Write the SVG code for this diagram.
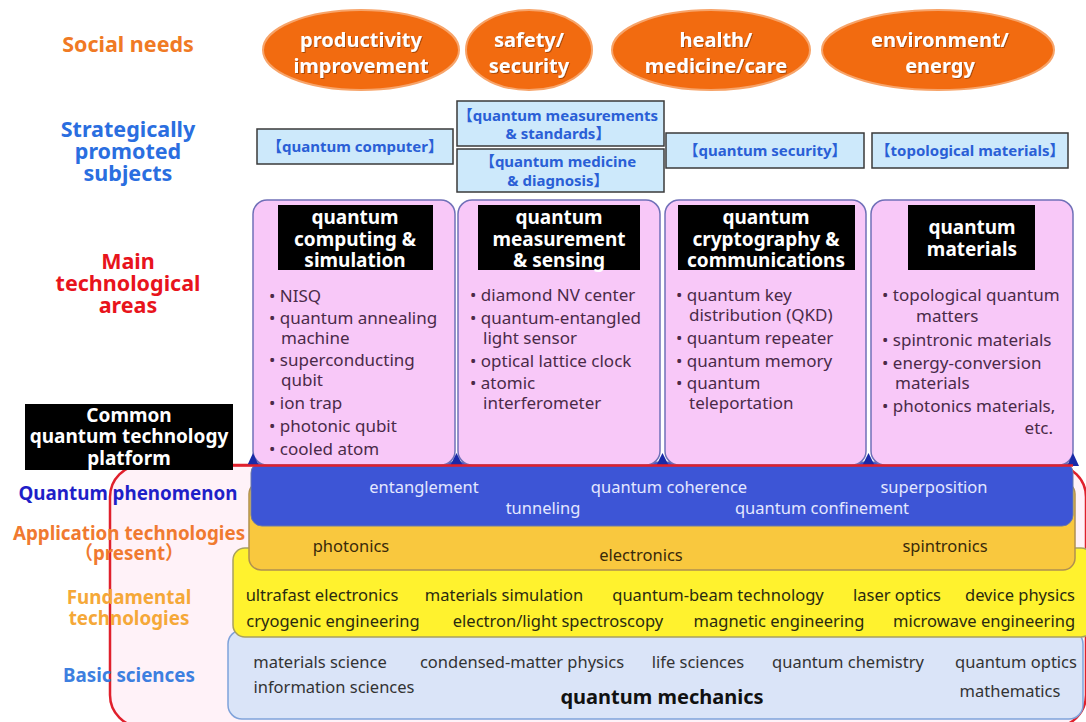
<svg xmlns="http://www.w3.org/2000/svg" width="1086" height="722" viewBox="0 0 1086 722">
<defs>
  <filter id="tshadow" x="-10%" y="-30%" width="120%" height="160%">
    <feDropShadow dx="1" dy="1" stdDeviation="0.6" flood-color="#7a3000" flood-opacity="0.6"/>
  </filter>
</defs>
<style>
text{font-family:"Noto Sans","Open Sans","Noto Sans CJK JP",sans-serif;}
.lbl{font-weight:bold;font-size:21.5px;text-anchor:middle;}
.lbl2{font-weight:bold;font-size:18.8px;text-anchor:middle;}
.need{fill:#f26b10;stroke:#f7a46a;stroke-width:2;}
.needt{fill:#fff;font-weight:bold;font-size:20px;text-anchor:middle;filter:url(#tshadow);}
.sbox{fill:#cde9fb;stroke:#3a3a3a;stroke-width:1.5;}
.st{fill:#2a5fd6;font-weight:bold;font-size:15px;text-anchor:middle;font-family:"Noto Sans","Noto Sans CJK JP",sans-serif;}
.col{fill:#f8c8f8;stroke:#7070b8;stroke-width:1.5;}
.hdr{fill:#000;}
.ht{fill:#fff;font-weight:bold;font-size:19px;text-anchor:middle;}
.bt{fill:#4a2a48;font-size:17px;}
.tri{fill:#1a2aa8;}
.pt{fill:#e4e8ff;font-size:16.5px;text-anchor:middle;}
.ot{fill:#3a2a0a;font-size:16.5px;text-anchor:middle;}
.yt{fill:#2a2a10;font-size:16.5px;text-anchor:middle;}
.bs{fill:#333;font-size:16.5px;text-anchor:middle;}
.pf{fill:#fff;font-weight:bold;font-size:19px;text-anchor:middle;}
</style>

<g id="platform-frame">
  <rect x="110" y="465" width="976" height="262" rx="32" fill="#fff2f8" stroke="#e0202c" stroke-width="2.5"/>
</g>

<g id="basic-sciences">
  <rect x="228" y="630" width="855" height="89" rx="14" fill="#dae4f8" stroke="#7fa2da" stroke-width="1.5"/>
  <text class="bs" x="320" y="668">materials science</text>
  <text class="bs" x="522" y="668">condensed-matter physics</text>
  <text class="bs" x="698" y="668">life sciences</text>
  <text class="bs" x="848" y="668">quantum chemistry</text>
  <text class="bs" x="1016" y="668">quantum optics</text>
  <text class="bs" x="334" y="693">information sciences</text>
  <text class="bs" x="1010" y="697">mathematics</text>
  <text x="662" y="704" style="font-weight:bold;font-size:20px;text-anchor:middle;fill:#111">quantum mechanics</text>
</g>

<g id="fundamental-technologies">
  <rect x="233" y="548" width="860" height="89" rx="12" fill="#fff22e" stroke="#a8a060" stroke-width="1.5"/>
  <text class="yt" x="322" y="601">ultrafast electronics</text>
  <text class="yt" x="504" y="601">materials simulation</text>
  <text class="yt" x="718" y="601">quantum-beam technology</text>
  <text class="yt" x="897" y="601">laser optics</text>
  <text class="yt" x="1020" y="601">device physics</text>
  <text class="yt" x="333" y="627">cryogenic engineering</text>
  <text class="yt" x="558" y="627">electron/light spectroscopy</text>
  <text class="yt" x="779" y="627">magnetic engineering</text>
  <text class="yt" x="984" y="627">microwave engineering</text>
</g>

<g id="application-technologies">
  <rect x="249" y="482" width="826" height="88" rx="12" fill="#f9c83e" stroke="#b09050" stroke-width="1.5"/>
  <text class="ot" x="351" y="552">photonics</text>
  <text class="ot" x="641" y="561">electronics</text>
  <text class="ot" x="945" y="552">spintronics</text>
</g>

<g id="quantum-phenomenon">
  <rect x="251" y="462" width="822" height="64" rx="11" fill="#3d55d6" stroke="#6b78a8" stroke-width="1"/>
  <text class="pt" x="424" y="493">entanglement</text>
  <text class="pt" x="669" y="493">quantum coherence</text>
  <text class="pt" x="934" y="493">superposition</text>
  <text class="pt" x="543" y="514">tunneling</text>
  <text class="pt" x="822" y="514">quantum confinement</text>
</g>

<g id="area-computing">
  <rect class="col" x="253" y="200" width="202" height="265" rx="14"/>
  <rect class="hdr" x="278" y="205" width="155" height="65"/>
  <text class="ht" x="355" y="224">quantum</text>
  <text class="ht" x="355" y="246">computing &amp;</text>
  <text class="ht" x="355" y="267">simulation</text>
  <text class="bt" x="269" y="302">• NISQ</text>
  <text class="bt" x="269" y="324">• quantum annealing</text>
  <text class="bt" x="281" y="344">machine</text>
  <text class="bt" x="269" y="366">• superconducting</text>
  <text class="bt" x="281" y="386">qubit</text>
  <text class="bt" x="269" y="409">• ion trap</text>
  <text class="bt" x="269" y="432">• photonic qubit</text>
  <text class="bt" x="269" y="455">• cooled atom</text>
</g>

<g id="area-measurement">
  <rect class="col" x="458" y="200" width="202" height="265" rx="14"/>
  <rect class="hdr" x="478" y="205" width="162" height="65"/>
  <text class="ht" x="559" y="224">quantum</text>
  <text class="ht" x="559" y="246">measurement</text>
  <text class="ht" x="559" y="267">&amp; sensing</text>
  <text class="bt" x="470" y="301">• diamond NV center</text>
  <text class="bt" x="470" y="324">• quantum-entangled</text>
  <text class="bt" x="483" y="344">light sensor</text>
  <text class="bt" x="470" y="367">• optical lattice clock</text>
  <text class="bt" x="470" y="389">• atomic</text>
  <text class="bt" x="483" y="409">interferometer</text>
</g>

<g id="area-cryptography">
  <rect class="col" x="665" y="200" width="201" height="265" rx="14"/>
  <rect class="hdr" x="678" y="205" width="177" height="65"/>
  <text class="ht" x="766" y="224">quantum</text>
  <text class="ht" x="766" y="246">cryptography &amp;</text>
  <text class="ht" x="766" y="267">communications</text>
  <text class="bt" x="676" y="301">• quantum key</text>
  <text class="bt" x="689" y="321">distribution (QKD)</text>
  <text class="bt" x="676" y="344">• quantum repeater</text>
  <text class="bt" x="676" y="367">• quantum memory</text>
  <text class="bt" x="676" y="389">• quantum</text>
  <text class="bt" x="689" y="409">teleportation</text>
</g>

<g id="area-materials">
  <rect class="col" x="871" y="200" width="202" height="265" rx="14"/>
  <rect class="hdr" x="908" y="205" width="127" height="65"/>
  <text class="ht" x="972" y="234">quantum</text>
  <text class="ht" x="972" y="256">materials</text>
  <text class="bt" x="882" y="301">• topological quantum</text>
  <text class="bt" x="916" y="322">matters</text>
  <text class="bt" x="882" y="346">• spintronic materials</text>
  <text class="bt" x="882" y="369">• energy-conversion</text>
  <text class="bt" x="895" y="389">materials</text>
  <text class="bt" x="882" y="412">• photonics materials,</text>
  <text class="bt" x="1053" y="434" style="text-anchor:end">etc.</text>
</g>

<g id="column-feet">
  <path class="tri" d="M247,466 L259,466 L253,453 Z"/>
  <path class="tri" d="M450,466 L463,466 L456.5,453 Z"/>
  <path class="tri" d="M656,466 L669,466 L662.5,453 Z"/>
  <path class="tri" d="M862,466 L875,466 L868.5,453 Z"/>
  <path class="tri" d="M1067,466 L1079,466 L1073,453 Z"/>
</g>

<g id="connectors">
  <line x1="233" y1="465.5" x2="1073" y2="465.5" stroke="#e0202c" stroke-width="2.5"/>
</g>

<g id="need-productivity">
  <ellipse class="need" cx="361" cy="50" rx="98" ry="40"/>
  <text class="needt" x="361" y="47">productivity</text>
  <text class="needt" x="361" y="73">improvement</text>
</g>
<g id="need-safety">
  <ellipse class="need" cx="529" cy="50" rx="63" ry="40"/>
  <text class="needt" x="529" y="47">safety/</text>
  <text class="needt" x="529" y="73">security</text>
</g>
<g id="need-health">
  <ellipse class="need" cx="711" cy="50" rx="99" ry="40"/>
  <text class="needt" x="716" y="47">health/</text>
  <text class="needt" x="716" y="73">medicine/care</text>
</g>
<g id="need-environment">
  <ellipse class="need" cx="938" cy="50" rx="116" ry="40"/>
  <text class="needt" x="940" y="47">environment/</text>
  <text class="needt" x="940" y="73">energy</text>
</g>

<g id="subj-computer">
  <rect class="sbox" x="257" y="129" width="196" height="35"/>
  <text class="st" x="355" y="152">【quantum computer】</text>
</g>
<g id="subj-measurements">
  <rect class="sbox" x="457" y="101" width="207" height="45"/>
  <text class="st" x="558" y="121">【quantum measurements</text>
  <text class="st" x="558" y="139">&amp; standards】</text>
</g>
<g id="subj-medicine">
  <rect class="sbox" x="457" y="149" width="207" height="43"/>
  <text class="st" x="558" y="167">【quantum medicine</text>
  <text class="st" x="558" y="186">&amp; diagnosis】</text>
</g>
<g id="subj-security">
  <rect class="sbox" x="666" y="133" width="198" height="35"/>
  <text class="st" x="765" y="156">【quantum security】</text>
</g>
<g id="subj-topological">
  <rect class="sbox" x="872" y="133" width="196" height="35"/>
  <text class="st" x="970" y="156">【topological materials】</text>
</g>

<g id="label-social">
  <text class="lbl" x="128" y="52" fill="#f07a24">Social needs</text>
</g>
<g id="label-strategic">
  <text class="lbl" x="128" y="137" fill="#2a6ee0">Strategically</text>
  <text class="lbl" x="128" y="159" fill="#2a6ee0">promoted</text>
  <text class="lbl" x="128" y="181" fill="#2a6ee0">subjects</text>
</g>
<g id="label-main">
  <text class="lbl" x="128" y="269" fill="#e8141c">Main</text>
  <text class="lbl" x="128" y="291" fill="#e8141c">technological</text>
  <text class="lbl" x="128" y="313" fill="#e8141c">areas</text>
</g>
<g id="label-platform">
  <rect x="25" y="404" width="208" height="66" fill="#000"/>
  <text class="pf" x="129" y="422">Common</text>
  <text class="pf" x="129" y="443">quantum technology</text>
  <text class="pf" x="129" y="465">platform</text>
</g>
<g id="label-phenomenon">
  <text class="lbl2" x="128" y="500" fill="#1f1fc8">Quantum phenomenon</text>
</g>
<g id="label-application">
  <text class="lbl2" x="129" y="540" fill="#f07a30">Application technologies</text>
  <text class="lbl2" x="129" y="560" fill="#f07a30">（present）</text>
</g>
<g id="label-fundamental">
  <text class="lbl2" x="129" y="604" fill="#f5a838">Fundamental</text>
  <text class="lbl2" x="129" y="625" fill="#f5a838">technologies</text>
</g>
<g id="label-basic">
  <text class="lbl2" x="129" y="682" fill="#3d7fe0">Basic sciences</text>
</g>
</svg>
